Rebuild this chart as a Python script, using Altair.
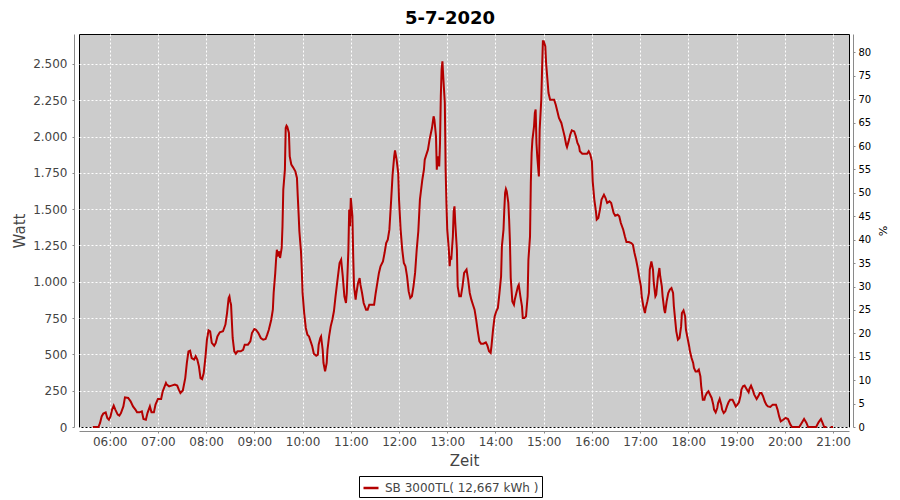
import altair as alt
import pandas as pd

# ---------------- data ----------------
times = [
    "05:39", "05:46", "05:48", "05:50", "05:52", "05:55", "05:57", "05:59",
    "06:01", "06:03", "06:05", "06:07", "06:10", "06:12", "06:14", "06:17",
    "06:19", "06:23", "06:26", "06:29", "06:32", "06:34", "06:37", "06:40",
    "06:42", "06:45", "06:47", "06:50", "06:52", "06:55", "06:57", "07:00",
    "07:04", "07:06", "07:10", "07:11", "07:14", "07:17", "07:21", "07:24",
    "07:26", "07:28", "07:31", "07:34", "07:36", "07:38", "07:40", "07:42",
    "07:45", "07:47", "07:49", "07:51", "07:53", "07:55", "07:57", "07:59",
    "08:01", "08:03", "08:05", "08:07", "08:10", "08:12", "08:14", "08:17",
    "08:21", "08:24", "08:26", "08:28", "08:29", "08:30", "08:31", "08:33",
    "08:35", "08:37", "08:39", "08:43", "08:46", "08:48", "08:52", "08:55",
    "08:57", "09:00", "09:02", "09:05", "09:08", "09:11", "09:14", "09:16",
    "09:18", "09:21", "09:23", "09:24", "09:26", "09:27", "09:28", "09:29",
    "09:31", "09:32", "09:34", "09:35", "09:36", "09:38", "09:39", "09:40",
    "09:41", "09:43", "09:44", "09:46", "09:48", "09:51", "09:53", "09:54",
    "09:55", "09:56", "09:58", "09:59", "10:00", "10:02", "10:04", "10:06",
    "10:08", "10:10", "10:12", "10:14", "10:17", "10:19", "10:20", "10:22",
    "10:23", "10:25", "10:26", "10:28", "10:30", "10:31", "10:33", "10:35",
    "10:37", "10:39", "10:41", "10:43", "10:46", "10:48", "10:50", "10:52",
    "10:54", "10:55", "10:57", "10:58", "10:59", "11:00", "11:02", "11:03",
    "11:04", "11:06", "11:07", "11:09", "11:11", "11:12", "11:14", "11:16",
    "11:19", "11:21", "11:23", "11:26", "11:29", "11:31", "11:33", "11:35",
    "11:37", "11:40", "11:42", "11:44", "11:46", "11:48", "11:50", "11:52",
    "11:54", "11:55", "11:57", "11:59", "12:00", "12:02", "12:04", "12:06",
    "12:08", "12:10", "12:12", "12:14", "12:16", "12:18", "12:20", "12:22",
    "12:24", "12:26", "12:29", "12:31", "12:32", "12:34", "12:36", "12:38",
    "12:41", "12:43", "12:44", "12:46", "12:47", "12:48", "12:50", "12:51",
    "12:52", "12:53", "12:54", "12:55", "12:57", "12:58", "12:59", "13:00",
    "13:02", "13:03", "13:04", "13:05", "13:07", "13:08", "13:09", "13:10",
    "13:12", "13:13", "13:15", "13:17", "13:19", "13:21", "13:24", "13:26",
    "13:28", "13:30", "13:32", "13:34", "13:36", "13:38", "13:40", "13:42",
    "13:45", "13:48", "13:50", "13:52", "13:54", "13:55", "13:57", "13:59",
    "14:01", "14:03", "14:05", "14:07", "14:08", "14:10", "14:11", "14:12",
    "14:13", "14:14", "14:16", "14:17", "14:18", "14:19", "14:21", "14:23",
    "14:24", "14:26", "14:28", "14:29", "14:31", "14:33", "14:34", "14:36",
    "14:38", "14:40", "14:41", "14:43", "14:44", "14:45", "14:46", "14:48",
    "14:49", "14:50", "14:51", "14:52", "14:53", "14:54", "14:55", "14:57",
    "14:58", "14:59", "15:00", "15:02", "15:03", "15:05", "15:06", "15:08",
    "15:10", "15:13", "15:15", "15:17", "15:19", "15:22", "15:24", "15:26",
    "15:28", "15:29", "15:31", "15:33", "15:35", "15:38", "15:40", "15:42",
    "15:44", "15:45", "15:48", "15:51", "15:54", "15:56", "15:58", "16:00",
    "16:01", "16:03", "16:05", "16:06", "16:08", "16:10", "16:12", "16:15",
    "16:17", "16:19", "16:22", "16:24", "16:27", "16:29", "16:32", "16:34",
    "16:36", "16:39", "16:41", "16:43", "16:46", "16:49", "16:51", "16:53",
    "16:55", "16:57", "16:59", "17:01", "17:02", "17:04", "17:06", "17:07",
    "17:09", "17:11", "17:12", "17:14", "17:16", "17:17", "17:19", "17:20",
    "17:22", "17:24", "17:25", "17:27", "17:28", "17:30", "17:31", "17:33",
    "17:35", "17:37", "17:39", "17:41", "17:42", "17:44", "17:45", "17:47",
    "17:49", "17:51", "17:52", "17:54", "17:56", "17:57", "17:59", "18:01",
    "18:02", "18:04", "18:06", "18:07", "18:09", "18:11", "18:13", "18:15",
    "18:16", "18:18", "18:20", "18:21", "18:23", "18:25", "18:26", "18:29",
    "18:31", "18:32", "18:34", "18:36", "18:37", "18:39", "18:41", "18:42",
    "18:44", "18:46", "18:48", "18:50", "18:52", "18:55", "18:57", "18:59",
    "19:01", "19:03", "19:05", "19:06", "19:08", "19:10", "19:13", "19:15",
    "19:16", "19:18", "19:20", "19:22", "19:25", "19:27", "19:29", "19:31",
    "19:33", "19:35", "19:37", "19:39", "19:42", "19:45", "19:49", "19:51",
    "19:53", "19:55", "19:58", "20:01", "20:04", "20:07", "20:09", "20:18",
    "20:21", "20:24", "20:27", "20:29", "20:39", "20:42", "20:45", "20:47",
    "20:49", "20:52", "20:54", "20:57", "21:00",
]
watts = [
    0, 0, 28, 73, 92, 100, 62, 50,
    73, 120, 147, 120, 85, 78, 96, 142,
    204, 200, 177, 142, 120, 101, 101, 108,
    55, 50, 96, 142, 101, 101, 154, 193,
    193, 246, 303, 292, 280, 285, 292, 285,
    257, 234, 252, 337, 441, 521, 526, 475,
    464, 487, 464, 418, 337, 330, 372, 475,
    601, 666, 659, 579, 560, 579, 624, 652,
    659, 705, 785, 888, 900, 865, 842, 613,
    521, 505, 521, 521, 532, 567, 567, 590,
    647, 675, 670, 647, 613, 601, 606, 636,
    670, 739, 808, 923, 1061, 1152, 1221, 1175,
    1210, 1164, 1233, 1382, 1635, 1772, 2059, 2075,
    2066, 2025, 1864, 1807, 1790, 1761, 1715, 1589,
    1474, 1348, 1210, 1084, 923, 785, 682, 636,
    624, 590, 556, 505, 491, 498, 567, 613,
    624, 532, 441, 383, 441, 532, 624, 693,
    739, 797, 900, 992, 1129, 1152, 1038, 900,
    854, 923, 1221, 1497, 1382, 1577, 1451, 1175,
    969, 877, 923, 992, 1026, 980, 923, 854,
    808, 808, 842, 842, 842, 923, 992, 1061,
    1107, 1141, 1198, 1267, 1290, 1359, 1543, 1738,
    1864, 1905, 1841, 1749, 1566, 1359, 1221, 1129,
    1107, 1038, 934, 888, 900, 969, 1061, 1221,
    1348, 1566, 1703, 1772, 1841, 1876, 1910, 1979,
    2059, 2140, 2117, 2002, 1772, 1864, 1795, 1956,
    2277, 2461, 2518, 2415, 2231, 1772, 1543, 1359,
    1221, 1107, 1175, 1152, 1313, 1485, 1520, 1405,
    1221, 969, 900, 900, 969, 1061, 1084, 1015,
    923, 877, 842, 808, 739, 659, 590, 574,
    574, 583, 560, 521, 510, 556, 670, 762,
    797, 820, 923, 1038, 1244, 1359, 1497, 1612,
    1639, 1623, 1543, 1428, 1279, 1026, 865, 842,
    877, 923, 969, 980, 900, 831, 751, 751,
    762, 900, 1152, 1313, 1680, 1887, 1979, 2071,
    2163, 2186, 1956, 1864, 1795, 1726, 2048, 2254,
    2461, 2656, 2656, 2622, 2507, 2369, 2300, 2254,
    2254, 2254, 2220, 2174, 2128, 2094, 2048, 2002,
    1944, 1928, 1967, 2013, 2043, 2036, 2002, 1956,
    1933, 1899, 1882, 1882, 1882, 1899, 1876, 1830,
    1692, 1566, 1485, 1428, 1439, 1497, 1566, 1600,
    1577, 1543, 1554, 1543, 1474, 1455, 1462, 1451,
    1405, 1359, 1313, 1274, 1274, 1267, 1256, 1198,
    1152, 1095, 1026, 969, 900, 831, 785, 820,
    865, 923, 1084, 1141, 1084, 992, 900, 911,
    1026, 1095, 1038, 969, 900, 808, 785, 865,
    923, 946, 957, 923, 831, 716, 659, 601,
    613, 693, 785, 803, 762, 670, 613, 556,
    521, 475, 441, 406, 383, 383, 395, 349,
    280, 188, 188, 211, 234, 246, 234, 200,
    154, 120, 101, 131, 165, 193, 154, 120,
    96, 108, 142, 170, 188, 188, 165, 142,
    154, 170, 216, 257, 280, 285, 257, 239,
    262, 285, 257, 223, 193, 211, 234, 234,
    211, 177, 154, 142, 138, 154, 154, 120,
    73, 39, 50, 62, 55, 16, 0, 0,
    28, 55, 28, 0, 0, 32, 55, 28,
    0, 0, None, 0, 0,
]
series_name = "SB 3000TL( 12,667 kWh )"
watt_ticks = [0, 250, 500, 750, 1000, 1250, 1500, 1750, 2000, 2250, 2500]
pct_ticks = [0, 5, 10, 15, 20, 25, 30, 35, 40, 45, 50, 55, 60, 65, 70, 75, 80]
hour_ticks = [6, 7, 8, 9, 10, 11, 12, 13, 14, 15, 16, 17, 18, 19, 20, 21]
watt_per_pct = 32.25

df = pd.DataFrame({
    "zeit": ["2020-07-05T%s:00Z" % t for t in times],
    "watt": watts,
    "serie": series_name,
})


def dt(h, m=0, s=0):
    return alt.DateTime(year=2020, month=7, date=5, hours=h, minutes=m, seconds=s, utc=True)


FONT = "DejaVu Sans"
GREY = "#444444"
AXIS_LINE = "#8a8a8a"

x_enc = alt.X(
    "zeit:T",
    scale=alt.Scale(type="utc", domain=[dt(5, 21, 48), dt(21, 19, 54)]),
    axis=alt.Axis(
        values=[dt(h) for h in hour_ticks], format="%H:%M", title="Zeit",
        offset=4, domainColor=AXIS_LINE, tickColor=AXIS_LINE, tickSize=2,
        labelPadding=3, labelFontSize=12, labelColor=GREY, labelFont=FONT,
        titleFontSize=15, titleColor=GREY, titleFont=FONT, titleFontWeight="normal",
        titlePadding=6, grid=True, gridColor="white", gridDash=[2, 2], gridWidth=1,
        labelFlush=False, labelOverlap=False,
    ),
)

line = alt.Chart(df).mark_line(strokeWidth=2, interpolate="linear").encode(
    x=x_enc,
    y=alt.Y(
        "watt:Q",
        scale=alt.Scale(domain=[0, 2706.6], nice=False, zero=True),
        axis=alt.Axis(
            values=watt_ticks, title="Watt", orient="left",
            labelExpr="replace(format(datum.value, ','), ',', '.')",
            offset=5, domainColor=AXIS_LINE, tickColor=AXIS_LINE, tickSize=2,
            labelPadding=5, labelFontSize=12, labelColor=GREY, labelFont=FONT,
            titleFontSize=15, titleColor=GREY, titleFont=FONT, titleFontWeight="normal",
            titlePadding=5, grid=True, gridColor="white", gridDash=[2, 2], gridWidth=1,
            labelOverlap=False,
        ),
    ),
    color=alt.Color(
        "serie:N",
        scale=alt.Scale(range=["#b40000"]),
        legend=alt.Legend(
            title=None, orient="none", legendX=280, legendY=442,
            direction="horizontal", strokeColor="black", fillColor="white",
            padding=3, symbolType="stroke", symbolSize=225, symbolStrokeWidth=2.5,
            labelFontSize=12, labelColor=GREY, labelFont=FONT, labelOffset=5,
            cornerRadius=0,
        ),
    ),
)

pct = alt.Chart(df).transform_calculate(
    prozent="datum.watt / %f" % watt_per_pct
).mark_line(opacity=0).encode(
    x=alt.X("zeit:T"),
    y=alt.Y(
        "prozent:Q",
        scale=alt.Scale(domain=[0, 2706.6 / watt_per_pct], nice=False, zero=True),
        axis=alt.Axis(
            values=pct_ticks, title="%", orient="right",
            offset=4, domainColor=AXIS_LINE, tickColor=AXIS_LINE, tickSize=2,
            labelPadding=3, labelFontSize=10, labelColor="black", labelFont=FONT,
            titleFontSize=11, titleColor="black", titleFont=FONT, titleFontWeight="normal",
            titlePadding=6, grid=False, labelOverlap=False,
        ),
    ),
)

chart = alt.layer(line, pct).resolve_scale(y="independent").properties(
    width=770,
    height=393,
    padding={"left": 71, "top": 26, "right": 43, "bottom": 73},
    autosize=alt.AutoSizeParams(type="none"),
    title=alt.TitleParams(
        "5-7-2020", fontSize=18, font=FONT, fontWeight="bold", color="black",
        anchor="middle", frame="group", dx=-14, offset=6,
    ),
).configure(
    font=FONT, background="white",
).configure_view(
    fill="#cccccc", stroke="black", strokeWidth=1,
)

chart.save("out.html", embed_options={"renderer": "svg", "actions": False})
